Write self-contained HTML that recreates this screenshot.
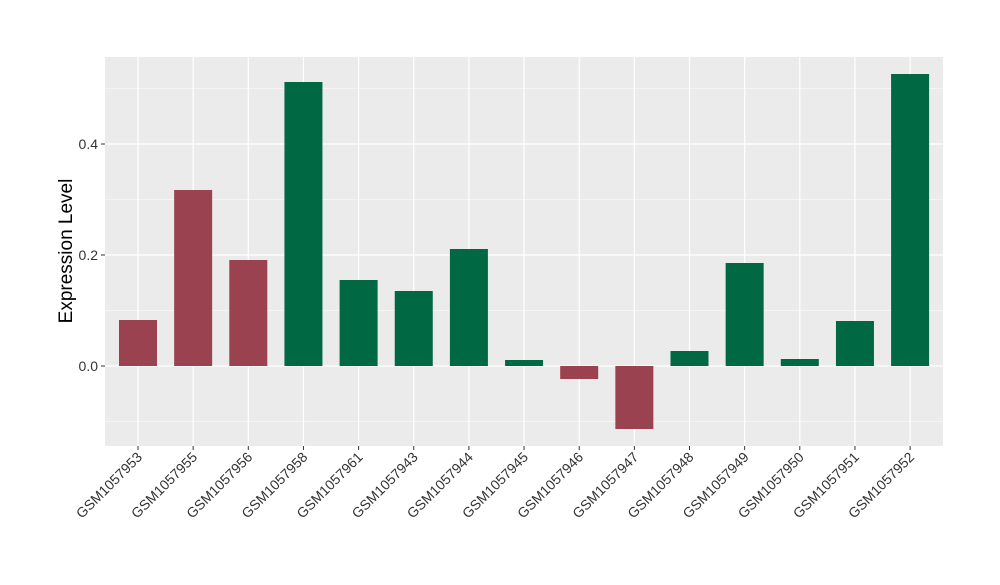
<!DOCTYPE html><html><head><style>body{margin:0;background:#fff}</style></head><body>
<svg width="1000" height="580" xmlns="http://www.w3.org/2000/svg" font-family="Liberation Sans, sans-serif">
<rect x="105" y="57" width="838" height="389" fill="#ebebeb"/>
<g stroke="#fff" stroke-width="0.6">
<line x1="105" x2="943" y1="88.5" y2="88.5"/><line x1="105" x2="943" y1="199.5" y2="199.5"/><line x1="105" x2="943" y1="310.5" y2="310.5"/><line x1="105" x2="943" y1="421.5" y2="421.5"/>
</g>
<g stroke="#fff" stroke-width="1.2">
<line x1="105" x2="943" y1="144" y2="144"/><line x1="105" x2="943" y1="255" y2="255"/><line x1="105" x2="943" y1="366" y2="366"/>
<line x1="138" x2="138" y1="57" y2="446"/><line x1="193.15" x2="193.15" y1="57" y2="446"/><line x1="248.3" x2="248.3" y1="57" y2="446"/><line x1="303.45" x2="303.45" y1="57" y2="446"/><line x1="358.6" x2="358.6" y1="57" y2="446"/><line x1="413.75" x2="413.75" y1="57" y2="446"/><line x1="468.9" x2="468.9" y1="57" y2="446"/><line x1="524.05" x2="524.05" y1="57" y2="446"/><line x1="579.2" x2="579.2" y1="57" y2="446"/><line x1="634.35" x2="634.35" y1="57" y2="446"/><line x1="689.5" x2="689.5" y1="57" y2="446"/><line x1="744.65" x2="744.65" y1="57" y2="446"/><line x1="799.8" x2="799.8" y1="57" y2="446"/><line x1="854.95" x2="854.95" y1="57" y2="446"/><line x1="910.1" x2="910.1" y1="57" y2="446"/>
</g>
<g fill="#9a4250">
<rect x="119" y="320" width="38" height="46"/>
<rect x="174.15" y="190" width="38" height="176"/>
<rect x="229.3" y="260" width="38" height="106"/>
<rect x="560.2" y="366" width="38" height="13"/>
<rect x="615.35" y="366" width="38" height="63"/>
</g>
<g fill="#006843">
<rect x="284.45" y="82" width="38" height="284"/>
<rect x="339.6" y="280" width="38" height="86"/>
<rect x="394.75" y="291" width="38" height="75"/>
<rect x="449.9" y="249" width="38" height="117"/>
<rect x="505.05" y="360" width="38" height="6"/>
<rect x="670.5" y="351" width="38" height="15"/>
<rect x="725.65" y="263" width="38" height="103"/>
<rect x="780.8" y="359" width="38" height="7"/>
<rect x="835.95" y="321" width="38" height="45"/>
<rect x="891.1" y="74" width="38" height="292"/>
</g>
<g font-size="14" fill="#333" text-anchor="end">
<text x="98" y="149">0.4</text><text x="98" y="260">0.2</text><text x="98" y="371">0.0</text>
</g>
<g stroke="#333"><line x1="101" x2="105" y1="144" y2="144"/><line x1="101" x2="105" y1="255" y2="255"/><line x1="101" x2="105" y1="366" y2="366"/>
<line x1="138" x2="138" y1="446" y2="450"/><line x1="193.15" x2="193.15" y1="446" y2="450"/><line x1="248.3" x2="248.3" y1="446" y2="450"/><line x1="303.45" x2="303.45" y1="446" y2="450"/><line x1="358.6" x2="358.6" y1="446" y2="450"/><line x1="413.75" x2="413.75" y1="446" y2="450"/><line x1="468.9" x2="468.9" y1="446" y2="450"/><line x1="524.05" x2="524.05" y1="446" y2="450"/><line x1="579.2" x2="579.2" y1="446" y2="450"/><line x1="634.35" x2="634.35" y1="446" y2="450"/><line x1="689.5" x2="689.5" y1="446" y2="450"/><line x1="744.65" x2="744.65" y1="446" y2="450"/><line x1="799.8" x2="799.8" y1="446" y2="450"/><line x1="854.95" x2="854.95" y1="446" y2="450"/><line x1="910.1" x2="910.1" y1="446" y2="450"/>
</g>
<text transform="translate(72,251) rotate(-90)" text-anchor="middle" font-size="19" fill="#000">Expression Level</text>
<g font-size="14" fill="#333" text-anchor="end">
<text transform="translate(143,458) rotate(-45)">GSM1057953</text>
<text transform="translate(198.15,458) rotate(-45)">GSM1057955</text>
<text transform="translate(253.3,458) rotate(-45)">GSM1057956</text>
<text transform="translate(308.45,458) rotate(-45)">GSM1057958</text>
<text transform="translate(363.6,458) rotate(-45)">GSM1057961</text>
<text transform="translate(418.75,458) rotate(-45)">GSM1057943</text>
<text transform="translate(473.9,458) rotate(-45)">GSM1057944</text>
<text transform="translate(529.05,458) rotate(-45)">GSM1057945</text>
<text transform="translate(584.2,458) rotate(-45)">GSM1057946</text>
<text transform="translate(639.35,458) rotate(-45)">GSM1057947</text>
<text transform="translate(694.5,458) rotate(-45)">GSM1057948</text>
<text transform="translate(749.65,458) rotate(-45)">GSM1057949</text>
<text transform="translate(804.8,458) rotate(-45)">GSM1057950</text>
<text transform="translate(859.95,458) rotate(-45)">GSM1057951</text>
<text transform="translate(915.1,458) rotate(-45)">GSM1057952</text>
</g>
</svg></body></html>
